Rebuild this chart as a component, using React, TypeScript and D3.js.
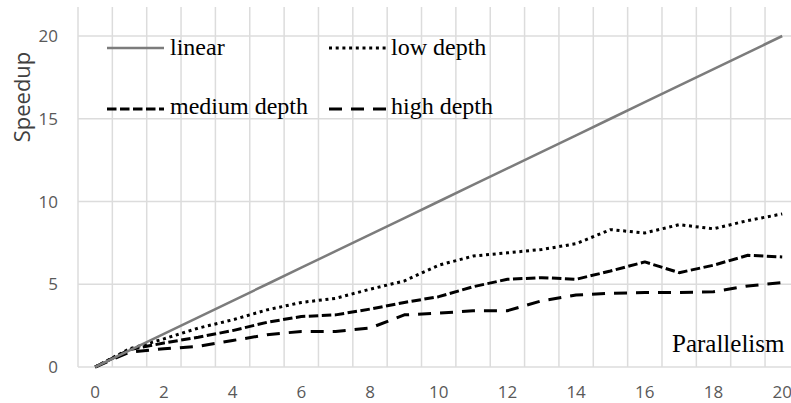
import { useEffect, useRef } from "react";
import * as d3 from "d3";

// parallelism levels 0..20
const parallelism = d3.range(0, 21);
const linear = [0, 1, 2, 3, 4, 5, 6, 7, 8, 9, 10, 11, 12, 13, 14, 15, 16, 17, 18, 19, 20];
const lowDepth = [0, 1.1, 1.7, 2.35, 2.85, 3.45, 3.9, 4.15, 4.7, 5.2, 6.15, 6.7, 6.9, 7.1, 7.45, 8.3, 8.1, 8.6, 8.35, 8.85, 9.25];
const mediumDepth = [0, 1.05, 1.45, 1.8, 2.2, 2.7, 3.05, 3.15, 3.5, 3.9, 4.25, 4.85, 5.3, 5.4, 5.3, 5.8, 6.35, 5.7, 6.15, 6.75, 6.65];
const highDepth = [0, 0.9, 1.1, 1.25, 1.6, 1.95, 2.15, 2.15, 2.35, 3.15, 3.25, 3.4, 3.4, 4.0, 4.35, 4.45, 4.5, 4.5, 4.55, 4.9, 5.1];

const yTicks = [0, 5, 10, 15, 20];
const xTicks = [0, 2, 4, 6, 8, 10, 12, 14, 16, 18, 20];

const seriesNames = ["linear", "low depth", "medium depth", "high depth"];

const App = () => {
  const svgRef = useRef<SVGSVGElement>(null);

  useEffect(() => {
    document.body.style.margin = "0";
    const w = 791;
    const h = 403;
    const svg = d3.select(svgRef.current).attr("width", w).attr("height", h);
    svg.selectAll("*").remove();

    const plotTop = 7;

    // category axis: gridlines sit between categories
    const x = d3.scaleLinear().domain([-0.5, 20.5]).range([78, 799.4]);
    const y = d3.scaleLinear().domain([0, 20]).range([367, 36]);

    const grid = svg.append("g").attr("stroke", "#dcdcdc").attr("stroke-width", 1.5);
    grid
      .selectAll(".vg")
      .data(d3.range(0, 22))
      .join("line")
      .attr("x1", (k) => x(k - 0.5))
      .attr("x2", (k) => x(k - 0.5))
      .attr("y1", plotTop)
      .attr("y2", y(0));
    grid
      .selectAll(".hg")
      .data(yTicks)
      .join("line")
      .attr("x1", x(-0.5))
      .attr("x2", x(20.5))
      .attr("y1", (d) => y(d))
      .attr("y2", (d) => y(d));

    // tick labels
    svg
      .append("g")
      .selectAll("text")
      .data(yTicks)
      .join("text")
      .attr("x", 58)
      .attr("y", (d) => y(d))
      .attr("dy", "0.36em")
      .attr("text-anchor", "end")
      .attr("font-family", "Open Sans")
      .attr("font-size", 17)
      .attr("fill", "#595959")
      .text((d) => d);

    svg
      .append("g")
      .selectAll("text")
      .data(xTicks)
      .join("text")
      .attr("x", (d) => x(d))
      .attr("y", 392)
      .attr("dy", "0.36em")
      .attr("text-anchor", "middle")
      .attr("font-family", "Open Sans")
      .attr("font-size", 17)
      .attr("fill", "#595959")
      .text((d) => d);

    svg
      .append("text")
      .attr("transform", "translate(22.5,97) rotate(-90)")
      .attr("text-anchor", "middle")
      .attr("dy", "0.35em")
      .attr("font-family", "Open Sans")
      .attr("font-size", 22)
      .attr("fill", "#404040")
      .text("Speedup");

    svg
      .append("text")
      .attr("x", 672)
      .attr("y", 352)
      .attr("font-family", "Liberation Serif")
      .attr("font-size", 25)
      .attr("fill", "#000")
      .text("Parallelism");

    // series
    const styles = [
      { data: linear, stroke: "#7c7c7c", width: 2.5, dash: null },
      { data: lowDepth, stroke: "#000", width: 3, dash: "3 3.7" },
      { data: mediumDepth, stroke: "#000", width: 3, dash: "9.5 3.5" },
      { data: highDepth, stroke: "#000", width: 3, dash: "13 9" },
    ];

    const line = d3
      .line<number>()
      .x((d, i) => x(parallelism[i]))
      .y((d) => y(d));

    svg
      .append("g")
      .selectAll("path")
      .data(styles.slice().reverse())
      .join("path")
      .attr("d", (s) => line(s.data))
      .attr("fill", "none")
      .attr("stroke", (s) => s.stroke)
      .attr("stroke-width", (s) => s.width)
      .attr("stroke-dasharray", (s) => s.dash)
      .attr("stroke-linejoin", "round");

    // legend, 2 columns x 2 rows
    const legendPos = [
      { lx: 107, ly: 48, tx: 170, ty: 55 },
      { lx: 329, ly: 48, tx: 391, ty: 55 },
      { lx: 107, ly: 109, tx: 170, ty: 114 },
      { lx: 329, ly: 109, tx: 391, ty: 114 },
    ];
    const legend = svg
      .append("g")
      .selectAll("g")
      .data(seriesNames)
      .join("g");
    legend
      .append("line")
      .attr("x1", (d, i) => legendPos[i].lx)
      .attr("x2", (d, i) => legendPos[i].lx + 57)
      .attr("y1", (d, i) => legendPos[i].ly)
      .attr("y2", (d, i) => legendPos[i].ly)
      .attr("stroke", (d, i) => styles[i].stroke)
      .attr("stroke-width", (d, i) => styles[i].width)
      .attr("stroke-dasharray", (d, i) => styles[i].dash);
    legend
      .append("text")
      .attr("x", (d, i) => legendPos[i].tx)
      .attr("y", (d, i) => legendPos[i].ty)
      .attr("font-family", "Liberation Serif")
      .attr("font-size", 24)
      .attr("fill", "#000")
      .text((d) => d);
  }, []);

  return (
    <div>
      <svg ref={svgRef} style={{ display: "block" }}></svg>
    </div>
  );
};

export default App;
